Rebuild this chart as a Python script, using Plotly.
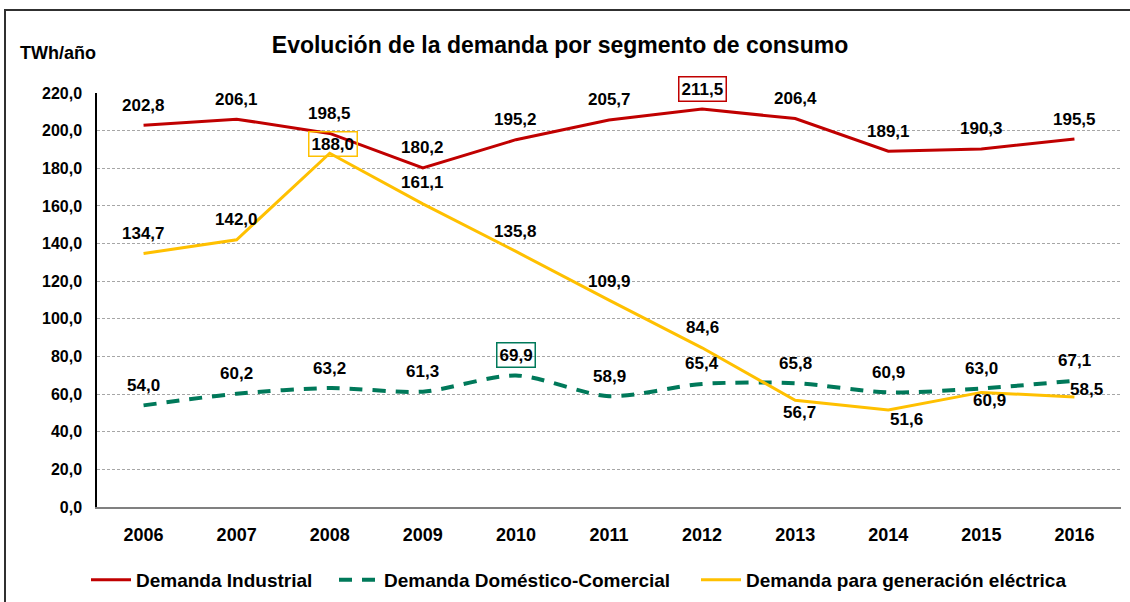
import plotly.graph_objects as go

years = [2006, 2007, 2008, 2009, 2010, 2011, 2012, 2013, 2014, 2015, 2016]
year_labels = ["2006", "2007", "2008", "2009", "2010", "2011", "2012", "2013", "2014", "2015", "2016"]
industrial = [202.8, 206.1, 198.5, 180.2, 195.2, 205.7, 211.5, 206.4, 189.1, 190.3, 195.5]
domestico = [54.0, 60.2, 63.2, 61.3, 69.9, 58.9, 65.4, 65.8, 60.9, 63.0, 67.1]
generacion = [134.7, 142.0, 188.0, 161.1, 135.8, 109.9, 84.6, 56.7, 51.6, 60.9, 58.5]
y_ticks = [0, 20, 40, 60, 80, 100, 120, 140, 160, 180, 200, 220]

names = ["Demanda Industrial", "Demanda Doméstico-Comercial", "Demanda para generación eléctrica"]
title_text = "Evolución de la demanda por segmento de consumo"
unit_text = "TWh/año"

# styles
RED = "#C00000"
GREEN = "#00795A"
YELLOW = "#FFC000"
FONT = "Liberation Sans, Arial, sans-serif"

# label offsets (px) per point: (xshift, yshift)
ind_off = [(0, 20)] * 11
dom_off = [(0, 20)] * 11
gen_off = [(0, 20), (0, 20), (3, 9), (0, 21), (0, 20), (0, 19), (0, 20),
           (4, -12), (18, -10), (8, -8), (12, 7)]
# boxed labels: index -> border colour
ind_box = {6: RED}
dom_box = {4: GREEN}
gen_box = {2: YELLOW}

W, H = 1130, 602
PL, PR, PT, PB = 97, 1121, 93, 507  # plot area in pixels


def px_x(x):
    return (x - PL) / (PR - PL)


def px_y(y):
    return (PB - y) / (PB - PT)


def fmt(v):
    return f"{v:.1f}".replace(".", ",")


def bold(size):
    return dict(family=FONT, size=size, color="black", weight="bold")


fig = go.Figure()
fig.add_trace(go.Scatter(x=years, y=industrial, name=names[0], mode="lines",
                         line=dict(color=RED, width=3), legend="legend"))
fig.add_trace(go.Scatter(x=years, y=domestico, name=names[1], mode="lines",
                         line=dict(color=GREEN, width=4, dash="13px,10px",
                                   shape="spline", smoothing=0.8), legend="legend2"))
fig.add_trace(go.Scatter(x=years, y=generacion, name=names[2], mode="lines",
                         line=dict(color=YELLOW, width=3), legend="legend3"))

annotations = []
for vals, offs, boxes in [(industrial, ind_off, ind_box),
                          (domestico, dom_off, dom_box),
                          (generacion, gen_off, gen_box)]:
    for i, (yr, v) in enumerate(zip(years, vals)):
        a = dict(x=yr, y=v, xref="x", yref="y", text=fmt(v), showarrow=False,
                 xshift=offs[i][0], yshift=offs[i][1], font=bold(17))
        if i in boxes:
            a.update(bordercolor=boxes[i], borderwidth=1.5, borderpad=2)
        annotations.append(a)

annotations.append(dict(x=px_x(18), y=px_y(53), xref="paper", yref="paper",
                        xanchor="left", yanchor="middle", text=unit_text,
                        showarrow=False, font=bold(18)))


def leg(xpix):
    return dict(orientation="h", x=px_x(xpix), xanchor="left",
                y=px_y(580), yanchor="middle",
                font=bold(19), itemwidth=40, bgcolor="rgba(0,0,0,0)")


fig.update_layout(
    width=W, height=H,
    margin=dict(l=PL, r=W - PR, t=PT, b=H - PB, autoexpand=False),
    paper_bgcolor="white", plot_bgcolor="white",
    separators=", ",
    font=dict(family=FONT, color="black"),
    title=dict(text=title_text, x=560 / W, xref="container",
               y=1 - 45 / H, yanchor="middle", xanchor="center",
               font=bold(23)),
    showlegend=True,
    legend=leg(86), legend2=leg(334), legend3=leg(696),
    annotations=annotations,
    shapes=[dict(type="rect", xref="paper", yref="paper",
                 x0=px_x(5), x1=px_x(1140), y0=px_y(620), y1=px_y(10),
                 line=dict(color="#303030", width=2), fillcolor="rgba(0,0,0,0)",
                 layer="below")],
)

fig.update_xaxes(range=[2005.5, 2016.5], tickvals=years, ticktext=year_labels,
                 showline=True, linecolor="#808080", linewidth=2,
                 showgrid=False, zeroline=False, ticks="", ticklabelstandoff=10,
                 tickfont=bold(18))
fig.update_yaxes(range=[0, 220], tickvals=y_ticks, tickformat=".1f",
                 showline=True, linecolor="black", linewidth=1.5,
                 showgrid=True, gridcolor="#A6A6A6", gridwidth=1, griddash="3px,2px",
                 zeroline=False, ticks="", ticklabelstandoff=10,
                 tickfont=bold(16))

fig.write_html("out.html", config={"displayModeBar": False},
               post_script="document.body.style.margin='0';")
